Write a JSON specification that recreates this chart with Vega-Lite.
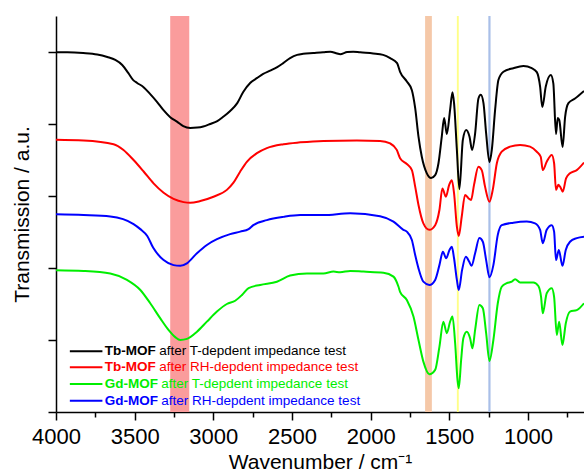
{
  "$schema": "https://vega.github.io/schema/vega-lite/v6.json",
  "width": 528,
  "height": 396,
  "autosize": "none",
  "padding": {"left": 56, "top": 16, "right": 0, "bottom": 59},
  "config": {"view": {"stroke": null}, "font": "Liberation Sans"},
  "datasets": {
    "bands": [
      {"band": "3210", "from": 3274, "to": 3153},
      {"band": "1630", "from": 1654, "to": 1611},
      {"band": "1446", "from": 1452, "to": 1440},
      {"band": "1245", "from": 1252, "to": 1238}
    ],
    "spectra": [
      {"s": "Tb-MOF (T)", "wn": 4000, "t": 9.99}, {"s": "Tb-MOF (T)", "wn": 3928, "t": 9.99}, {"s": "Tb-MOF (T)", "wn": 3827, "t": 9.97}, {"s": "Tb-MOF (T)", "wn": 3738, "t": 9.93},
      {"s": "Tb-MOF (T)", "wn": 3674, "t": 9.86}, {"s": "Tb-MOF (T)", "wn": 3623, "t": 9.78}, {"s": "Tb-MOF (T)", "wn": 3579, "t": 9.64}, {"s": "Tb-MOF (T)", "wn": 3541, "t": 9.42},
      {"s": "Tb-MOF (T)", "wn": 3509, "t": 9.22}, {"s": "Tb-MOF (T)", "wn": 3484, "t": 9.14}, {"s": "Tb-MOF (T)", "wn": 3445, "t": 9.03}, {"s": "Tb-MOF (T)", "wn": 3401, "t": 8.83},
      {"s": "Tb-MOF (T)", "wn": 3357, "t": 8.61}, {"s": "Tb-MOF (T)", "wn": 3318, "t": 8.39}, {"s": "Tb-MOF (T)", "wn": 3274, "t": 8.19}, {"s": "Tb-MOF (T)", "wn": 3229, "t": 8.06},
      {"s": "Tb-MOF (T)", "wn": 3191, "t": 7.94}, {"s": "Tb-MOF (T)", "wn": 3147, "t": 7.89}, {"s": "Tb-MOF (T)", "wn": 3102, "t": 7.9}, {"s": "Tb-MOF (T)", "wn": 3064, "t": 7.93},
      {"s": "Tb-MOF (T)", "wn": 3020, "t": 8.0}, {"s": "Tb-MOF (T)", "wn": 2975, "t": 8.08}, {"s": "Tb-MOF (T)", "wn": 2937, "t": 8.2}, {"s": "Tb-MOF (T)", "wn": 2893, "t": 8.36},
      {"s": "Tb-MOF (T)", "wn": 2848, "t": 8.58}, {"s": "Tb-MOF (T)", "wn": 2810, "t": 8.89}, {"s": "Tb-MOF (T)", "wn": 2766, "t": 9.14}, {"s": "Tb-MOF (T)", "wn": 2721, "t": 9.28},
      {"s": "Tb-MOF (T)", "wn": 2683, "t": 9.39}, {"s": "Tb-MOF (T)", "wn": 2639, "t": 9.48}, {"s": "Tb-MOF (T)", "wn": 2594, "t": 9.58}, {"s": "Tb-MOF (T)", "wn": 2556, "t": 9.69},
      {"s": "Tb-MOF (T)", "wn": 2512, "t": 9.83}, {"s": "Tb-MOF (T)", "wn": 2467, "t": 9.92}, {"s": "Tb-MOF (T)", "wn": 2429, "t": 9.95}, {"s": "Tb-MOF (T)", "wn": 2365, "t": 9.97},
      {"s": "Tb-MOF (T)", "wn": 2302, "t": 9.99}, {"s": "Tb-MOF (T)", "wn": 2257, "t": 10.01}, {"s": "Tb-MOF (T)", "wn": 2213, "t": 9.96}, {"s": "Tb-MOF (T)", "wn": 2194, "t": 9.94},
      {"s": "Tb-MOF (T)", "wn": 2149, "t": 10.0}, {"s": "Tb-MOF (T)", "wn": 2111, "t": 10.01}, {"s": "Tb-MOF (T)", "wn": 2067, "t": 9.99}, {"s": "Tb-MOF (T)", "wn": 1984, "t": 9.96},
      {"s": "Tb-MOF (T)", "wn": 1921, "t": 9.92}, {"s": "Tb-MOF (T)", "wn": 1876, "t": 9.83}, {"s": "Tb-MOF (T)", "wn": 1832, "t": 9.69}, {"s": "Tb-MOF (T)", "wn": 1813, "t": 9.45},
      {"s": "Tb-MOF (T)", "wn": 1770, "t": 9.18}, {"s": "Tb-MOF (T)", "wn": 1738, "t": 8.94}, {"s": "Tb-MOF (T)", "wn": 1717, "t": 8.44}, {"s": "Tb-MOF (T)", "wn": 1696, "t": 7.65},
      {"s": "Tb-MOF (T)", "wn": 1675, "t": 7.09}, {"s": "Tb-MOF (T)", "wn": 1643, "t": 6.63}, {"s": "Tb-MOF (T)", "wn": 1616, "t": 6.5}, {"s": "Tb-MOF (T)", "wn": 1590, "t": 6.58},
      {"s": "Tb-MOF (T)", "wn": 1569, "t": 6.91}, {"s": "Tb-MOF (T)", "wn": 1548, "t": 7.65}, {"s": "Tb-MOF (T)", "wn": 1533, "t": 8.17}, {"s": "Tb-MOF (T)", "wn": 1516, "t": 7.72},
      {"s": "Tb-MOF (T)", "wn": 1495, "t": 8.39}, {"s": "Tb-MOF (T)", "wn": 1480, "t": 8.88}, {"s": "Tb-MOF (T)", "wn": 1470, "t": 8.58}, {"s": "Tb-MOF (T)", "wn": 1452, "t": 7.28},
      {"s": "Tb-MOF (T)", "wn": 1436, "t": 6.19}, {"s": "Tb-MOF (T)", "wn": 1414, "t": 7.56}, {"s": "Tb-MOF (T)", "wn": 1393, "t": 7.83}, {"s": "Tb-MOF (T)", "wn": 1372, "t": 7.65},
      {"s": "Tb-MOF (T)", "wn": 1355, "t": 7.28}, {"s": "Tb-MOF (T)", "wn": 1336, "t": 7.74}, {"s": "Tb-MOF (T)", "wn": 1315, "t": 8.71}, {"s": "Tb-MOF (T)", "wn": 1300, "t": 8.81},
      {"s": "Tb-MOF (T)", "wn": 1283, "t": 8.58}, {"s": "Tb-MOF (T)", "wn": 1266, "t": 7.74}, {"s": "Tb-MOF (T)", "wn": 1245, "t": 6.94}, {"s": "Tb-MOF (T)", "wn": 1230, "t": 7.28},
      {"s": "Tb-MOF (T)", "wn": 1209, "t": 8.39}, {"s": "Tb-MOF (T)", "wn": 1188, "t": 9.22}, {"s": "Tb-MOF (T)", "wn": 1156, "t": 9.45}, {"s": "Tb-MOF (T)", "wn": 1093, "t": 9.55},
      {"s": "Tb-MOF (T)", "wn": 1029, "t": 9.61}, {"s": "Tb-MOF (T)", "wn": 976, "t": 9.55}, {"s": "Tb-MOF (T)", "wn": 944, "t": 9.44}, {"s": "Tb-MOF (T)", "wn": 923, "t": 9.04},
      {"s": "Tb-MOF (T)", "wn": 909, "t": 8.47}, {"s": "Tb-MOF (T)", "wn": 887, "t": 9.04}, {"s": "Tb-MOF (T)", "wn": 855, "t": 9.36}, {"s": "Tb-MOF (T)", "wn": 839, "t": 9.13},
      {"s": "Tb-MOF (T)", "wn": 822, "t": 7.72}, {"s": "Tb-MOF (T)", "wn": 811, "t": 8.17}, {"s": "Tb-MOF (T)", "wn": 801, "t": 8.11}, {"s": "Tb-MOF (T)", "wn": 780, "t": 7.36},
      {"s": "Tb-MOF (T)", "wn": 764, "t": 8.2}, {"s": "Tb-MOF (T)", "wn": 743, "t": 8.58}, {"s": "Tb-MOF (T)", "wn": 701, "t": 8.71}, {"s": "Tb-MOF (T)", "wn": 644, "t": 8.92},

      {"s": "Tb-MOF (RH)", "wn": 4000, "t": 7.56}, {"s": "Tb-MOF (RH)", "wn": 3825, "t": 7.54}, {"s": "Tb-MOF (RH)", "wn": 3634, "t": 7.44}, {"s": "Tb-MOF (RH)", "wn": 3571, "t": 7.28},
      {"s": "Tb-MOF (RH)", "wn": 3507, "t": 7.0}, {"s": "Tb-MOF (RH)", "wn": 3443, "t": 6.68}, {"s": "Tb-MOF (RH)", "wn": 3380, "t": 6.35}, {"s": "Tb-MOF (RH)", "wn": 3316, "t": 6.09},
      {"s": "Tb-MOF (RH)", "wn": 3253, "t": 5.92}, {"s": "Tb-MOF (RH)", "wn": 3189, "t": 5.83}, {"s": "Tb-MOF (RH)", "wn": 3147, "t": 5.81}, {"s": "Tb-MOF (RH)", "wn": 3083, "t": 5.86},
      {"s": "Tb-MOF (RH)", "wn": 2999, "t": 5.98}, {"s": "Tb-MOF (RH)", "wn": 2914, "t": 6.17}, {"s": "Tb-MOF (RH)", "wn": 2872, "t": 6.37}, {"s": "Tb-MOF (RH)", "wn": 2829, "t": 6.68},
      {"s": "Tb-MOF (RH)", "wn": 2787, "t": 6.95}, {"s": "Tb-MOF (RH)", "wn": 2723, "t": 7.19}, {"s": "Tb-MOF (RH)", "wn": 2660, "t": 7.33}, {"s": "Tb-MOF (RH)", "wn": 2554, "t": 7.44},
      {"s": "Tb-MOF (RH)", "wn": 2448, "t": 7.49}, {"s": "Tb-MOF (RH)", "wn": 2300, "t": 7.53}, {"s": "Tb-MOF (RH)", "wn": 2088, "t": 7.54}, {"s": "Tb-MOF (RH)", "wn": 1940, "t": 7.53},
      {"s": "Tb-MOF (RH)", "wn": 1876, "t": 7.46}, {"s": "Tb-MOF (RH)", "wn": 1834, "t": 7.28}, {"s": "Tb-MOF (RH)", "wn": 1813, "t": 7.05}, {"s": "Tb-MOF (RH)", "wn": 1770, "t": 6.89},
      {"s": "Tb-MOF (RH)", "wn": 1738, "t": 6.72}, {"s": "Tb-MOF (RH)", "wn": 1717, "t": 6.26}, {"s": "Tb-MOF (RH)", "wn": 1696, "t": 5.75}, {"s": "Tb-MOF (RH)", "wn": 1665, "t": 5.24},
      {"s": "Tb-MOF (RH)", "wn": 1627, "t": 5.06}, {"s": "Tb-MOF (RH)", "wn": 1590, "t": 5.19}, {"s": "Tb-MOF (RH)", "wn": 1563, "t": 5.61}, {"s": "Tb-MOF (RH)", "wn": 1544, "t": 6.21},
      {"s": "Tb-MOF (RH)", "wn": 1522, "t": 5.98}, {"s": "Tb-MOF (RH)", "wn": 1501, "t": 6.31}, {"s": "Tb-MOF (RH)", "wn": 1484, "t": 6.44}, {"s": "Tb-MOF (RH)", "wn": 1470, "t": 6.08},
      {"s": "Tb-MOF (RH)", "wn": 1452, "t": 5.15}, {"s": "Tb-MOF (RH)", "wn": 1440, "t": 4.89}, {"s": "Tb-MOF (RH)", "wn": 1421, "t": 5.43}, {"s": "Tb-MOF (RH)", "wn": 1400, "t": 6.03},
      {"s": "Tb-MOF (RH)", "wn": 1379, "t": 5.94}, {"s": "Tb-MOF (RH)", "wn": 1362, "t": 5.89}, {"s": "Tb-MOF (RH)", "wn": 1343, "t": 6.31}, {"s": "Tb-MOF (RH)", "wn": 1315, "t": 6.81},
      {"s": "Tb-MOF (RH)", "wn": 1294, "t": 6.72}, {"s": "Tb-MOF (RH)", "wn": 1273, "t": 6.26}, {"s": "Tb-MOF (RH)", "wn": 1245, "t": 5.84}, {"s": "Tb-MOF (RH)", "wn": 1224, "t": 6.17},
      {"s": "Tb-MOF (RH)", "wn": 1198, "t": 6.91}, {"s": "Tb-MOF (RH)", "wn": 1167, "t": 7.23}, {"s": "Tb-MOF (RH)", "wn": 1114, "t": 7.37}, {"s": "Tb-MOF (RH)", "wn": 1050, "t": 7.42},
      {"s": "Tb-MOF (RH)", "wn": 987, "t": 7.37}, {"s": "Tb-MOF (RH)", "wn": 944, "t": 7.23}, {"s": "Tb-MOF (RH)", "wn": 919, "t": 7.09}, {"s": "Tb-MOF (RH)", "wn": 906, "t": 6.72},
      {"s": "Tb-MOF (RH)", "wn": 881, "t": 6.95}, {"s": "Tb-MOF (RH)", "wn": 849, "t": 7.14}, {"s": "Tb-MOF (RH)", "wn": 834, "t": 6.91}, {"s": "Tb-MOF (RH)", "wn": 822, "t": 6.17},
      {"s": "Tb-MOF (RH)", "wn": 807, "t": 6.31}, {"s": "Tb-MOF (RH)", "wn": 796, "t": 6.26}, {"s": "Tb-MOF (RH)", "wn": 779, "t": 6.12}, {"s": "Tb-MOF (RH)", "wn": 758, "t": 6.49},
      {"s": "Tb-MOF (RH)", "wn": 733, "t": 6.63}, {"s": "Tb-MOF (RH)", "wn": 690, "t": 6.72}, {"s": "Tb-MOF (RH)", "wn": 644, "t": 6.93},

      {"s": "Gd-MOF (RH)", "wn": 4000, "t": 5.49}, {"s": "Gd-MOF (RH)", "wn": 3825, "t": 5.47}, {"s": "Gd-MOF (RH)", "wn": 3655, "t": 5.43}, {"s": "Gd-MOF (RH)", "wn": 3507, "t": 5.22},
      {"s": "Gd-MOF (RH)", "wn": 3464, "t": 5.08}, {"s": "Gd-MOF (RH)", "wn": 3420, "t": 4.89}, {"s": "Gd-MOF (RH)", "wn": 3382, "t": 4.56}, {"s": "Gd-MOF (RH)", "wn": 3316, "t": 4.22},
      {"s": "Gd-MOF (RH)", "wn": 3253, "t": 4.08}, {"s": "Gd-MOF (RH)", "wn": 3210, "t": 4.06}, {"s": "Gd-MOF (RH)", "wn": 3168, "t": 4.13}, {"s": "Gd-MOF (RH)", "wn": 3104, "t": 4.41},
      {"s": "Gd-MOF (RH)", "wn": 3041, "t": 4.64}, {"s": "Gd-MOF (RH)", "wn": 2977, "t": 4.8}, {"s": "Gd-MOF (RH)", "wn": 2893, "t": 4.94}, {"s": "Gd-MOF (RH)", "wn": 2829, "t": 5.01},
      {"s": "Gd-MOF (RH)", "wn": 2776, "t": 5.08}, {"s": "Gd-MOF (RH)", "wn": 2746, "t": 5.19}, {"s": "Gd-MOF (RH)", "wn": 2660, "t": 5.33}, {"s": "Gd-MOF (RH)", "wn": 2554, "t": 5.42},
      {"s": "Gd-MOF (RH)", "wn": 2448, "t": 5.47}, {"s": "Gd-MOF (RH)", "wn": 2300, "t": 5.47}, {"s": "Gd-MOF (RH)", "wn": 2130, "t": 5.52}, {"s": "Gd-MOF (RH)", "wn": 1940, "t": 5.44},
      {"s": "Gd-MOF (RH)", "wn": 1855, "t": 5.29}, {"s": "Gd-MOF (RH)", "wn": 1792, "t": 5.06}, {"s": "Gd-MOF (RH)", "wn": 1770, "t": 5.01}, {"s": "Gd-MOF (RH)", "wn": 1738, "t": 4.78},
      {"s": "Gd-MOF (RH)", "wn": 1717, "t": 4.36}, {"s": "Gd-MOF (RH)", "wn": 1696, "t": 3.99}, {"s": "Gd-MOF (RH)", "wn": 1665, "t": 3.62}, {"s": "Gd-MOF (RH)", "wn": 1627, "t": 3.53},
      {"s": "Gd-MOF (RH)", "wn": 1590, "t": 3.67}, {"s": "Gd-MOF (RH)", "wn": 1563, "t": 4.08}, {"s": "Gd-MOF (RH)", "wn": 1541, "t": 4.45}, {"s": "Gd-MOF (RH)", "wn": 1520, "t": 4.27},
      {"s": "Gd-MOF (RH)", "wn": 1499, "t": 4.5}, {"s": "Gd-MOF (RH)", "wn": 1484, "t": 4.59}, {"s": "Gd-MOF (RH)", "wn": 1470, "t": 4.27}, {"s": "Gd-MOF (RH)", "wn": 1452, "t": 3.67},
      {"s": "Gd-MOF (RH)", "wn": 1440, "t": 3.39}, {"s": "Gd-MOF (RH)", "wn": 1419, "t": 3.94}, {"s": "Gd-MOF (RH)", "wn": 1395, "t": 4.31}, {"s": "Gd-MOF (RH)", "wn": 1374, "t": 4.18},
      {"s": "Gd-MOF (RH)", "wn": 1359, "t": 4.06}, {"s": "Gd-MOF (RH)", "wn": 1336, "t": 4.41}, {"s": "Gd-MOF (RH)", "wn": 1309, "t": 4.83}, {"s": "Gd-MOF (RH)", "wn": 1287, "t": 4.73},
      {"s": "Gd-MOF (RH)", "wn": 1266, "t": 4.22}, {"s": "Gd-MOF (RH)", "wn": 1245, "t": 3.74}, {"s": "Gd-MOF (RH)", "wn": 1220, "t": 4.08}, {"s": "Gd-MOF (RH)", "wn": 1192, "t": 4.92},
      {"s": "Gd-MOF (RH)", "wn": 1167, "t": 5.19}, {"s": "Gd-MOF (RH)", "wn": 1093, "t": 5.26}, {"s": "Gd-MOF (RH)", "wn": 1008, "t": 5.29}, {"s": "Gd-MOF (RH)", "wn": 955, "t": 5.24},
      {"s": "Gd-MOF (RH)", "wn": 923, "t": 5.06}, {"s": "Gd-MOF (RH)", "wn": 906, "t": 4.69}, {"s": "Gd-MOF (RH)", "wn": 881, "t": 5.06}, {"s": "Gd-MOF (RH)", "wn": 849, "t": 5.19},
      {"s": "Gd-MOF (RH)", "wn": 834, "t": 5.01}, {"s": "Gd-MOF (RH)", "wn": 822, "t": 4.22}, {"s": "Gd-MOF (RH)", "wn": 804, "t": 4.5}, {"s": "Gd-MOF (RH)", "wn": 781, "t": 4.06},
      {"s": "Gd-MOF (RH)", "wn": 760, "t": 4.5}, {"s": "Gd-MOF (RH)", "wn": 733, "t": 4.73}, {"s": "Gd-MOF (RH)", "wn": 690, "t": 4.83}, {"s": "Gd-MOF (RH)", "wn": 644, "t": 4.87},

      {"s": "Gd-MOF (T)", "wn": 4000, "t": 3.94}, {"s": "Gd-MOF (T)", "wn": 3825, "t": 3.92}, {"s": "Gd-MOF (T)", "wn": 3655, "t": 3.85}, {"s": "Gd-MOF (T)", "wn": 3549, "t": 3.67},
      {"s": "Gd-MOF (T)", "wn": 3464, "t": 3.39}, {"s": "Gd-MOF (T)", "wn": 3401, "t": 3.02}, {"s": "Gd-MOF (T)", "wn": 3337, "t": 2.6}, {"s": "Gd-MOF (T)", "wn": 3285, "t": 2.28},
      {"s": "Gd-MOF (T)", "wn": 3242, "t": 2.08}, {"s": "Gd-MOF (T)", "wn": 3210, "t": 2.0}, {"s": "Gd-MOF (T)", "wn": 3168, "t": 2.03}, {"s": "Gd-MOF (T)", "wn": 3104, "t": 2.23},
      {"s": "Gd-MOF (T)", "wn": 3041, "t": 2.51}, {"s": "Gd-MOF (T)", "wn": 2977, "t": 2.79}, {"s": "Gd-MOF (T)", "wn": 2914, "t": 3.0}, {"s": "Gd-MOF (T)", "wn": 2861, "t": 3.09},
      {"s": "Gd-MOF (T)", "wn": 2818, "t": 3.25}, {"s": "Gd-MOF (T)", "wn": 2776, "t": 3.44}, {"s": "Gd-MOF (T)", "wn": 2702, "t": 3.53}, {"s": "Gd-MOF (T)", "wn": 2596, "t": 3.62},
      {"s": "Gd-MOF (T)", "wn": 2512, "t": 3.79}, {"s": "Gd-MOF (T)", "wn": 2405, "t": 3.85}, {"s": "Gd-MOF (T)", "wn": 2300, "t": 3.85}, {"s": "Gd-MOF (T)", "wn": 2236, "t": 3.9},
      {"s": "Gd-MOF (T)", "wn": 2194, "t": 3.88}, {"s": "Gd-MOF (T)", "wn": 2130, "t": 3.92}, {"s": "Gd-MOF (T)", "wn": 2046, "t": 3.9}, {"s": "Gd-MOF (T)", "wn": 1919, "t": 3.87},
      {"s": "Gd-MOF (T)", "wn": 1855, "t": 3.76}, {"s": "Gd-MOF (T)", "wn": 1823, "t": 3.48}, {"s": "Gd-MOF (T)", "wn": 1813, "t": 3.34}, {"s": "Gd-MOF (T)", "wn": 1770, "t": 3.11},
      {"s": "Gd-MOF (T)", "wn": 1728, "t": 2.65}, {"s": "Gd-MOF (T)", "wn": 1696, "t": 2.0}, {"s": "Gd-MOF (T)", "wn": 1665, "t": 1.4}, {"s": "Gd-MOF (T)", "wn": 1627, "t": 1.05},
      {"s": "Gd-MOF (T)", "wn": 1590, "t": 1.17}, {"s": "Gd-MOF (T)", "wn": 1563, "t": 1.81}, {"s": "Gd-MOF (T)", "wn": 1538, "t": 2.51}, {"s": "Gd-MOF (T)", "wn": 1516, "t": 2.19},
      {"s": "Gd-MOF (T)", "wn": 1495, "t": 2.51}, {"s": "Gd-MOF (T)", "wn": 1480, "t": 2.65}, {"s": "Gd-MOF (T)", "wn": 1463, "t": 1.91}, {"s": "Gd-MOF (T)", "wn": 1448, "t": 0.89},
      {"s": "Gd-MOF (T)", "wn": 1440, "t": 0.66}, {"s": "Gd-MOF (T)", "wn": 1425, "t": 1.44}, {"s": "Gd-MOF (T)", "wn": 1411, "t": 2.05}, {"s": "Gd-MOF (T)", "wn": 1389, "t": 2.23},
      {"s": "Gd-MOF (T)", "wn": 1368, "t": 2.05}, {"s": "Gd-MOF (T)", "wn": 1353, "t": 1.77}, {"s": "Gd-MOF (T)", "wn": 1336, "t": 2.28}, {"s": "Gd-MOF (T)", "wn": 1309, "t": 2.97},
      {"s": "Gd-MOF (T)", "wn": 1287, "t": 2.88}, {"s": "Gd-MOF (T)", "wn": 1266, "t": 2.19}, {"s": "Gd-MOF (T)", "wn": 1245, "t": 1.42}, {"s": "Gd-MOF (T)", "wn": 1220, "t": 2.0},
      {"s": "Gd-MOF (T)", "wn": 1192, "t": 3.02}, {"s": "Gd-MOF (T)", "wn": 1167, "t": 3.48}, {"s": "Gd-MOF (T)", "wn": 1135, "t": 3.58}, {"s": "Gd-MOF (T)", "wn": 1103, "t": 3.62},
      {"s": "Gd-MOF (T)", "wn": 1082, "t": 3.69}, {"s": "Gd-MOF (T)", "wn": 1050, "t": 3.6}, {"s": "Gd-MOF (T)", "wn": 966, "t": 3.6}, {"s": "Gd-MOF (T)", "wn": 934, "t": 3.5},
      {"s": "Gd-MOF (T)", "wn": 917, "t": 3.2}, {"s": "Gd-MOF (T)", "wn": 906, "t": 2.74}, {"s": "Gd-MOF (T)", "wn": 881, "t": 3.3}, {"s": "Gd-MOF (T)", "wn": 849, "t": 3.44},
      {"s": "Gd-MOF (T)", "wn": 834, "t": 3.2}, {"s": "Gd-MOF (T)", "wn": 817, "t": 2.14}, {"s": "Gd-MOF (T)", "wn": 802, "t": 2.51}, {"s": "Gd-MOF (T)", "wn": 781, "t": 1.86},
      {"s": "Gd-MOF (T)", "wn": 760, "t": 2.46}, {"s": "Gd-MOF (T)", "wn": 733, "t": 2.79}, {"s": "Gd-MOF (T)", "wn": 690, "t": 2.83}, {"s": "Gd-MOF (T)", "wn": 644, "t": 3.02}
    ]
  },
  "layer": [
    {
      "data": {"name": "bands"},
      "mark": {"type": "rect"},
      "encoding": {
        "x": {
          "field": "from",
          "type": "quantitative",
          "scale": {"domain": [644, 4000], "reverse": true, "nice": false, "zero": false},
          "axis": {
            "values": [750, 1000, 1250, 1500, 1750, 2000, 2250, 2500, 2750, 3000, 3250, 3500, 3750, 4000],
            "format": "d",
            "labelExpr": "datum.value % 500 === 0 ? datum.label : ''",
            "tickSize": {"condition": {"test": "datum.value % 500 === 0", "value": 8}, "value": 5},
            "tickWidth": 1.5,
            "tickColor": "black",
            "domainColor": "black",
            "domainWidth": 1.5,
            "grid": false,
            "labelFontSize": 22,
            "labelColor": "black",
            "labelFlush": false,
            "labelOverlap": false,
            "labelPadding": 6,
            "title": "Wavenumber / cm⁻¹",
            "titleFontSize": 21,
            "titleFontWeight": "normal",
            "titleColor": "black",
            "titlePadding": 4
          }
        },
        "x2": {"field": "to"},
        "fill": {
          "field": "band",
          "type": "nominal",
          "scale": {"domain": ["3210", "1630", "1446", "1245"], "range": ["#fa9c9c", "#f5c8a8", "#ffff88", "#a9bfe8"]},
          "legend": null
        }
      }
    },
    {
      "data": {"name": "spectra"},
      "mark": {"type": "line", "interpolate": "monotone", "strokeWidth": 2, "clip": true},
      "encoding": {
        "x": {"field": "wn", "type": "quantitative"},
        "y": {
          "field": "t",
          "type": "quantitative",
          "scale": {"domain": [0, 11], "nice": false, "zero": false},
          "axis": {
            "values": [0, 1, 2, 3, 4, 5, 6, 7, 8, 9, 10, 11],
            "labels": false,
            "tickSize": {"condition": {"test": "datum.value % 2 === 0", "value": 8}, "value": 5},
            "tickWidth": 1.5,
            "tickColor": "black",
            "domainColor": "black",
            "domainWidth": 1.5,
            "grid": false,
            "title": "Transmission / a.u.",
            "titleFontSize": 21,
            "titleFontWeight": "normal",
            "titleColor": "black",
            "titlePadding": 15
          }
        },
        "stroke": {
          "field": "s",
          "type": "nominal",
          "scale": {
            "domain": ["Tb-MOF (T)", "Tb-MOF (RH)", "Gd-MOF (T)", "Gd-MOF (RH)"],
            "range": ["#000000", "#ff0000", "#00ee00", "#0000ff"]
          },
          "legend": null
        },
        "detail": {"field": "s"}
      }
    },
    {
      "data": {"values": [{}]},
      "encoding": {"y": {"datum": 1.69}},
      "layer": [
        {"mark": {"type": "rule", "color": "#000000", "strokeWidth": 2}, "encoding": {"x": {"datum": 3912}, "x2": {"datum": 3705}}},
        {"mark": {"type": "text", "align": "left", "baseline": "middle", "fontSize": 13.5, "fontWeight": "bold", "color": "#000000", "text": "Tb-MOF"}, "encoding": {"x": {"datum": 3690}}},
        {"mark": {"type": "text", "align": "left", "baseline": "middle", "fontSize": 13.5, "dx": 54.5, "color": "#000000", "text": "after T-depdent impedance test"}, "encoding": {"x": {"datum": 3690}}}
      ]
    },
    {
      "data": {"values": [{}]},
      "encoding": {"y": {"datum": 1.24}},
      "layer": [
        {"mark": {"type": "rule", "color": "#ff0000", "strokeWidth": 2}, "encoding": {"x": {"datum": 3912}, "x2": {"datum": 3705}}},
        {"mark": {"type": "text", "align": "left", "baseline": "middle", "fontSize": 13.5, "fontWeight": "bold", "color": "#ff0000", "text": "Tb-MOF"}, "encoding": {"x": {"datum": 3690}}},
        {"mark": {"type": "text", "align": "left", "baseline": "middle", "fontSize": 13.5, "dx": 54.5, "color": "#ff0000", "text": "after RH-depdent impedance test"}, "encoding": {"x": {"datum": 3690}}}
      ]
    },
    {
      "data": {"values": [{}]},
      "encoding": {"y": {"datum": 0.78}},
      "layer": [
        {"mark": {"type": "rule", "color": "#00ee00", "strokeWidth": 2}, "encoding": {"x": {"datum": 3912}, "x2": {"datum": 3705}}},
        {"mark": {"type": "text", "align": "left", "baseline": "middle", "fontSize": 13.5, "fontWeight": "bold", "color": "#00ee00", "text": "Gd-MOF"}, "encoding": {"x": {"datum": 3690}}},
        {"mark": {"type": "text", "align": "left", "baseline": "middle", "fontSize": 13.5, "dx": 56.5, "color": "#00ee00", "text": "after T-depdent impedance test"}, "encoding": {"x": {"datum": 3690}}}
      ]
    },
    {
      "data": {"values": [{}]},
      "encoding": {"y": {"datum": 0.31}},
      "layer": [
        {"mark": {"type": "rule", "color": "#0000ff", "strokeWidth": 2}, "encoding": {"x": {"datum": 3912}, "x2": {"datum": 3705}}},
        {"mark": {"type": "text", "align": "left", "baseline": "middle", "fontSize": 13.5, "fontWeight": "bold", "color": "#0000ff", "text": "Gd-MOF"}, "encoding": {"x": {"datum": 3690}}},
        {"mark": {"type": "text", "align": "left", "baseline": "middle", "fontSize": 13.5, "dx": 56.5, "color": "#0000ff", "text": "after RH-depdent impedance test"}, "encoding": {"x": {"datum": 3690}}}
      ]
    }
  ]
}
